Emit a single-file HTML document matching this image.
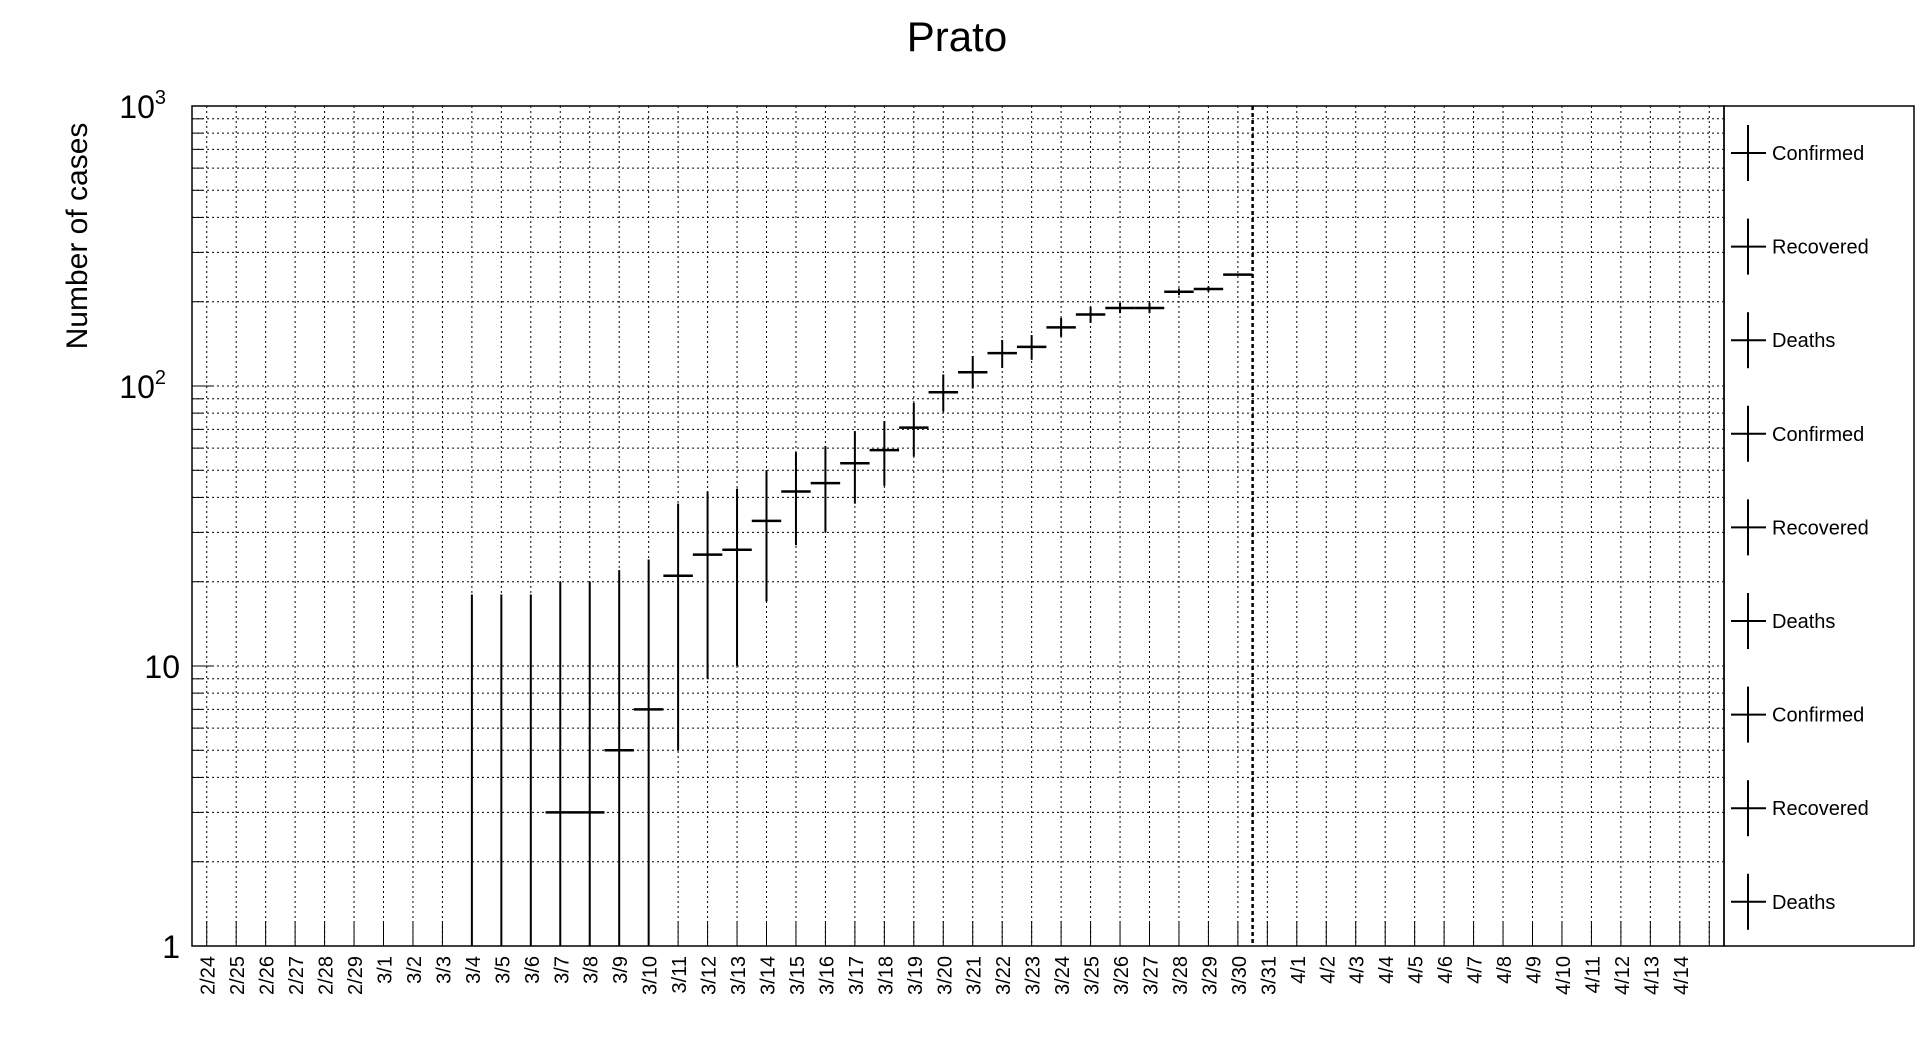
<!DOCTYPE html>
<html><head><meta charset="utf-8"><style>
html,body{margin:0;padding:0;background:#fff;}
svg{display:block;font-family:"Liberation Sans",sans-serif;}
</style></head><body>
<svg id="c" width="1916" height="1052" viewBox="0 0 1916 1052">
<text x="957" y="51" font-size="42" text-anchor="middle">Prato</text>
<text transform="translate(87,236) rotate(-90)" font-size="30" text-anchor="middle">Number of cases</text>
<g id="grid"></g><g id="axes"></g><g id="marks"></g><g id="legend"></g>
</svg>
<script>
const categories=["2/24","2/25","2/26","2/27","2/28","2/29","3/1","3/2","3/3","3/4","3/5","3/6","3/7","3/8","3/9","3/10","3/11","3/12","3/13","3/14","3/15","3/16","3/17","3/18","3/19","3/20","3/21","3/22","3/23","3/24","3/25","3/26","3/27","3/28","3/29","3/30","3/31","4/1","4/2","4/3","4/4","4/5","4/6","4/7","4/8","4/9","4/10","4/11","4/12","4/13","4/14"];
const confirmedValues=[1,1,1,3,3,5,7,21,25,26,33,42,45,53,59,71,95,112,131,138,162,180,190,190,217,222,250];
const upperValues=[18,18,18,20,20,22,24,38,42,43,50,58,61,69,75,87,110,128,146,152,175,192,198,198,223,227,250];
const lowerValues=[1,1,1,1,1,1,1,5,9,10,17,27,30,38,44,56,81,98,116,124,150,168,182,182,211,217,250];
const showMarker=[0,0,0,1,1,1,1,1,1,1,1,1,1,1,1,1,1,1,1,1,1,1,1,1,1,1,1];
const firstIndex=9;
const yTicks=[1,10,100,1000];
const yTickLabels=["1","10","10²","10³"];
const legendLabels=["Confirmed","Recovered","Deaths","Confirmed","Recovered","Deaths","Confirmed","Recovered","Deaths"];
const dividerIndex=35.5;

const L=192,R=1724,T=106,B=946,NS="http://www.w3.org/2000/svg";
const xs=i=>L+(i+0.5)*(R-L)/52;
const bw=(R-L)/52;
const ys=v=>B-Math.log10(v)*(B-T)/3;
function mk(tag,attrs,parent){const e=document.createElementNS(NS,tag);for(const k in attrs)e.setAttribute(k,attrs[k]);document.getElementById(parent).appendChild(e);return e;}
for(let d=0;d<3;d++)for(let m=1;m<=9;m++){const v=Math.pow(10,d)*m;if(m===1&&d===0)continue;const y=ys(v);
 const g=mk('line',{x1:L,x2:R,y1:y,y2:y,stroke:'#000','stroke-width':1,'stroke-dasharray':'2,3'},'grid');
 
 
 const t=mk('line',{x1:L,x2:L+(m===1?22:11),y1:y,y2:y,stroke:'#000','stroke-width':1},'axes');
 
 }
for(let i=0;i<52;i++){const x=xs(i);
 const g=mk('line',{x1:x,x2:x,y1:T,y2:B,stroke:'#000','stroke-width':1,'stroke-dasharray':'2,3'},'grid');
 
 
 const t=mk('line',{x1:x,x2:x,y1:B-25,y2:B,stroke:'#000','stroke-width':1},'axes');
 
 
 if(i<categories.length){const lb=mk('text',{transform:`translate(${x+8},${B+10}) rotate(-90)`,'font-size':20,'text-anchor':'end'},'axes');lb.textContent=categories[i];
 
 }}
yTicks.forEach((v,k)=>{const lb=mk('text',{x:L-12,y:ys(v)+12,'font-size':32,'text-anchor':'end'},'axes');
 if(v>=100){lb.textContent='10';const s=mk('tspan',{dy:-14,'font-size':20},'axes');lb.appendChild(s);s.textContent=String(Math.log10(v));lb.setAttribute('x',L-26);}
 else lb.textContent=yTickLabels[k];
 
 });
const fr=mk('rect',{x:L,y:T,width:R-L,height:B-T,fill:'none',stroke:'#000','stroke-width':1.5},'axes');


const lf=mk('rect',{x:R,y:T,width:1914-R,height:B-T,fill:'none',stroke:'#000','stroke-width':1.5},'legend');


const dv=mk('line',{x1:xs(dividerIndex),x2:xs(dividerIndex),y1:T,y2:B,stroke:'#000','stroke-width':2.5,'stroke-dasharray':'4,3'},'marks');


confirmedValues.forEach((v,k)=>{const x=xs(firstIndex+k);
 const e=mk('line',{x1:x,x2:x,y1:ys(upperValues[k]),y2:ys(lowerValues[k]),stroke:'#000','stroke-width':2},'marks');
 
 
 if(showMarker[k]){const h=mk('line',{x1:x-bw/2,x2:x+bw/2,y1:ys(v),y2:ys(v),stroke:'#000','stroke-width':2.5},'marks');
 
 }});
legendLabels.forEach((s,k)=>{const y=153+k*93.6;
 mk('line',{x1:1731,x2:1766,y1:y,y2:y,stroke:'#000','stroke-width':2},'legend');
 mk('line',{x1:1748,x2:1748,y1:y-28,y2:y+28,stroke:'#000','stroke-width':2},'legend');
 const t=mk('text',{x:1772,y:y+7,'font-size':20},'legend');t.textContent=s;
 
 });
</script>
</body></html>
